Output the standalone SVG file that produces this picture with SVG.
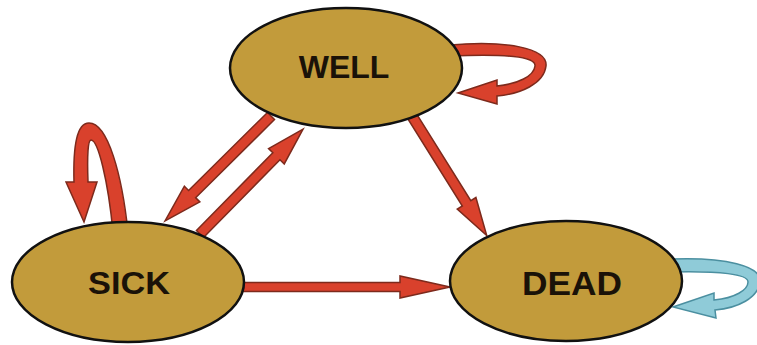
<svg xmlns="http://www.w3.org/2000/svg" width="757" height="345" viewBox="0 0 757 345">
<style>
.arr{fill:#d9412c;stroke:#7d2a1c;stroke-width:1.5;stroke-linejoin:miter}
.loopb{fill:#8fcbd8;stroke:#4b8fa0;stroke-width:1.5}
.node{fill:#c29b3b;stroke:#111;stroke-width:2.5}
.lbl{font-family:"Liberation Sans",Arial,sans-serif;font-weight:bold;fill:#1a1208;text-anchor:middle}
</style>
<rect width="757" height="345" fill="#fff"/>
<g id="connectors">
<polygon class="arr" transform="translate(271,116) rotate(135.3)" points="0,-5 111,-5 111,-11 149,0 111,11 111,5 0,5"/>
<polygon class="arr" transform="translate(200,234) rotate(-45.5)" points="0,-5 109,-5 109,-11 147,0 109,11 109,5 0,5"/>
<polygon class="arr" transform="translate(412,116) rotate(58)" points="0,-5 103,-5 103,-11 141,0 103,11 103,5 0,5"/>
<polygon class="arr" transform="translate(240,287)" points="0,-4.5 160,-4.5 160,-11 210,0 160,11 160,4.5 0,4.5"/>
<path class="arr" d="M450,45 C505,40 548,48 546,66 C544,84 520,94 497,96 L497,104 L458,93 L497,80 L497,86 C518,84 534,76 535,66 C536,56 505,54 450,56 Z"/>
<path class="arr" d="M128,232 C122,175 108,123 89,123 C77,123 73,145 74,182 L66,182 L84,222 L97,182 L88,182 C87,155 88,140 91,140 C98,140 108,180 113,232 Z"/>
<path class="loopb" d="M672,259 C725,257 762,266 760,282 C758,298 738,308 715,310 L716,318 L673,307 L714,293 L714,300 C735,298 748,290 748,282 C748,274 720,271 672,272 Z"/>
</g>
<g id="well">
<ellipse class="node" cx="346" cy="68" rx="116" ry="60"/>
<text class="lbl" x="344" y="78" font-size="32">WELL</text>
</g>
<g id="sick">
<ellipse class="node" cx="128" cy="282" rx="116" ry="60"/>
<text class="lbl" x="129" y="294" font-size="32" textLength="82" lengthAdjust="spacingAndGlyphs">SICK</text>
</g>
<g id="dead">
<ellipse class="node" cx="566" cy="281" rx="116" ry="60"/>
<text class="lbl" x="572" y="295" font-size="34" textLength="100" lengthAdjust="spacingAndGlyphs">DEAD</text>
</g>
</svg>
